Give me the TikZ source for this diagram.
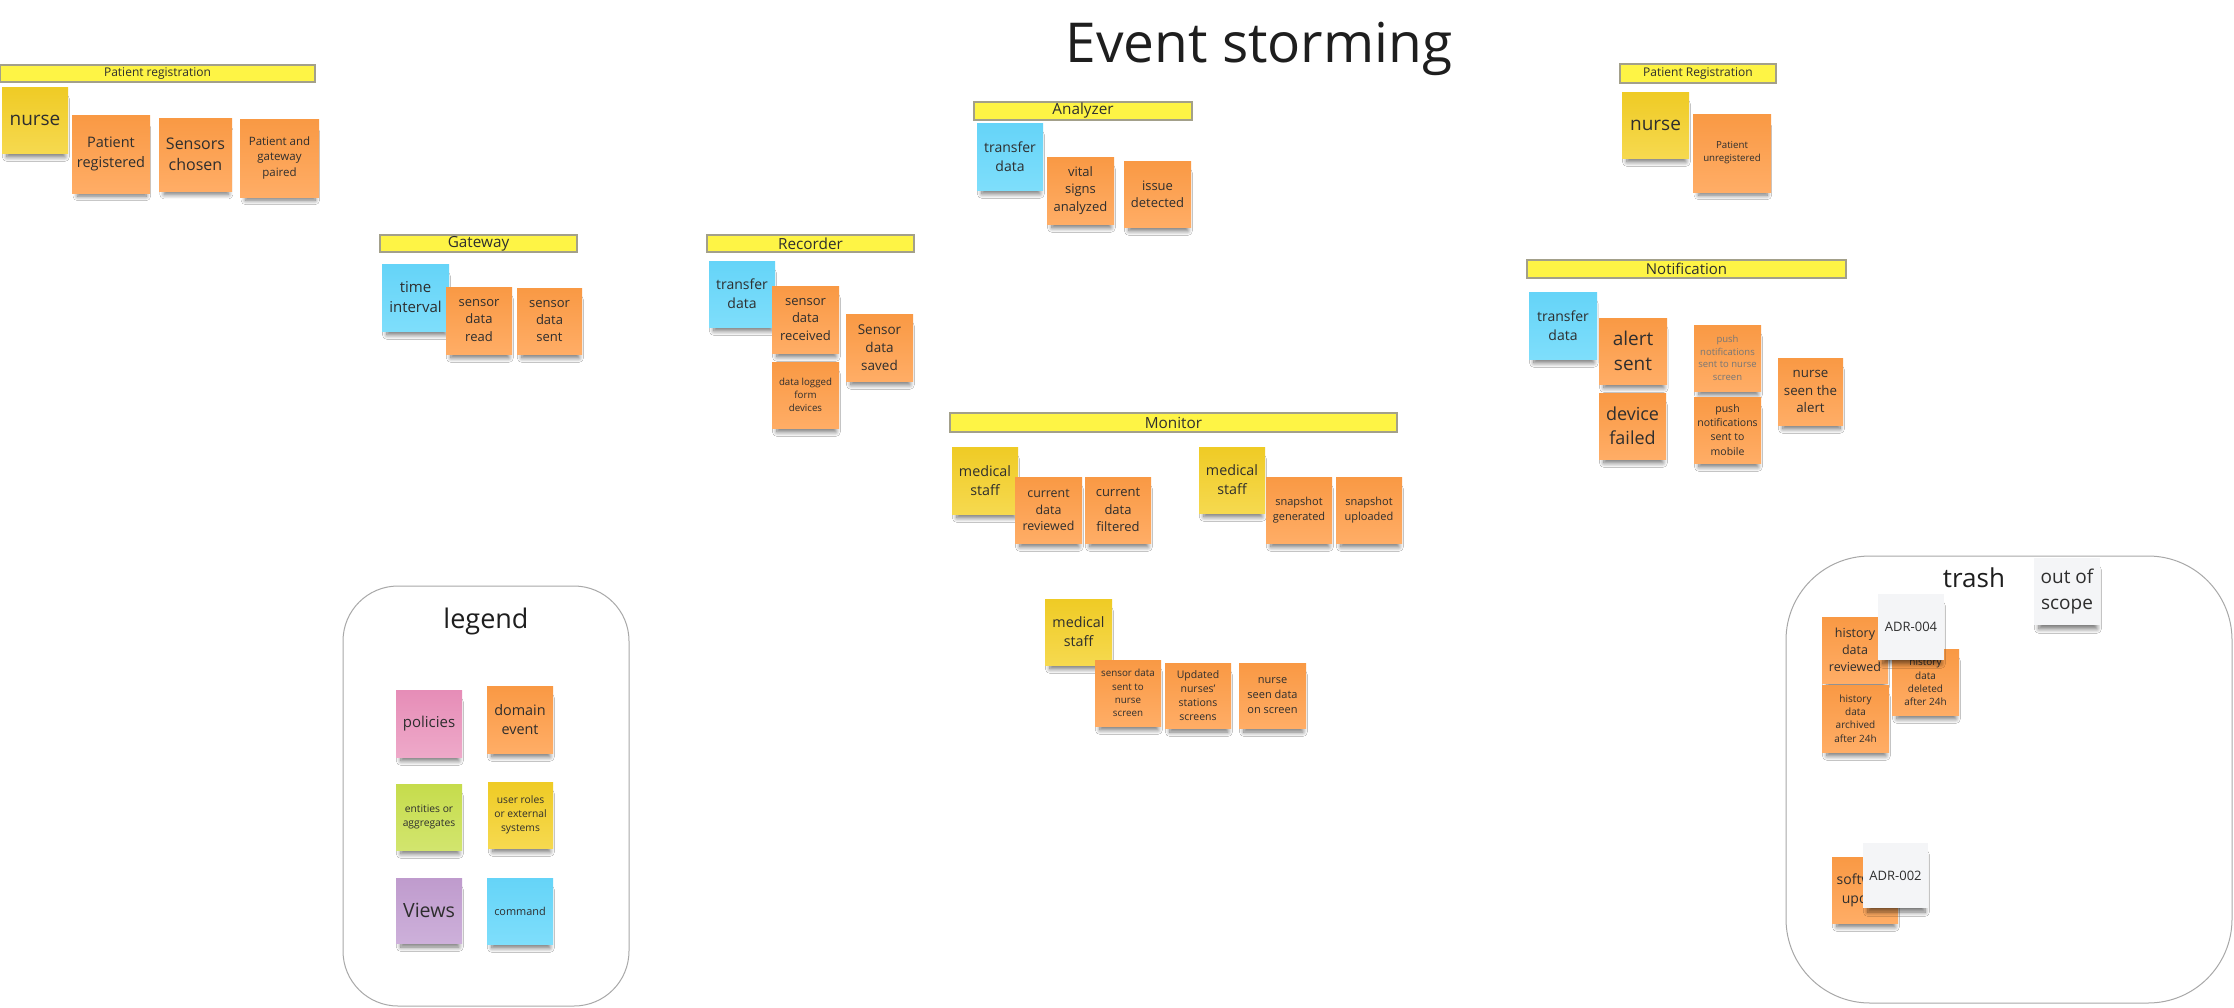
\documentclass[tikz,border=0pt]{standalone}
\usepackage{fontspec}
\setmainfont{Open Sans}
\usetikzlibrary{shadows.blur}
\definecolor{orT}{HTML}{F99944}
\definecolor{orB}{HTML}{FFAD66}
\definecolor{yeT}{HTML}{EFCB25}
\definecolor{yeB}{HTML}{F6D94F}
\definecolor{blT}{HTML}{65D4F8}
\definecolor{blB}{HTML}{7EDEFB}
\definecolor{grF}{HTML}{F4F5F7}
\definecolor{piT}{HTML}{E68DB7}
\definecolor{piB}{HTML}{EEA9C9}
\definecolor{gnT}{HTML}{C6DC4C}
\definecolor{gnB}{HTML}{D2E56E}
\definecolor{puT}{HTML}{BF9BCD}
\definecolor{puB}{HTML}{CDB0DA}
\definecolor{bannerF}{HTML}{FEF445}
\definecolor{bannerD}{HTML}{A3A08A}
\definecolor{txt}{HTML}{2E2E2E}
\definecolor{ttl}{HTML}{1E1E1E}
\definecolor{boxD}{HTML}{A8A8A8}
\newcommand\fsz[1]{\fontsize{#1}{\fpeval{1.34*#1}}\selectfont}
\newcommand\stk[8]{\node[#1, anchor=north west, minimum width={(#5-#3)*1pt}, minimum height={(#6-#4)*1pt}, font=\fsz{#7}] (#2) at (#3,#4) {#8};}
\newcommand\bnr[7]{\node[banner, anchor=north west, minimum width={(#4-#2)*1pt}, minimum height={(#5-#3)*1pt}, font=\fsz{#6}] (#1) at (#2,#3) {#7};}
\tikzset{
  sticky/.style={inner sep=1pt, outer sep=0pt, align=center, text=txt,
    blur shadow={shadow xshift=1pt, shadow yshift=-9pt, shadow blur radius=5pt, shadow blur steps=10, shadow opacity=55, shadow scale=0.88}},
  ev/.style={sticky, top color=orT, bottom color=orB},
  actor/.style={sticky, top color=yeT, bottom color=yeB},
  cmdn/.style={sticky, top color=blT, bottom color=blB},
  note/.style={sticky, fill=grF},
  pol/.style={sticky, top color=piT, bottom color=piB},
  ent/.style={sticky, top color=gnT, bottom color=gnB},
  view/.style={sticky, top color=puT, bottom color=puB},
  banner/.style={draw=bannerD, line width=1.3pt, fill=bannerF, inner sep=0pt, outer sep=0pt, text=txt},
  frame/.style={draw=boxD, line width=1pt, fill=none, anchor=north west, inner sep=0pt, outer sep=0pt},
}
\begin{document}
\begin{tikzpicture}[x=1pt, y=-1pt]
\useasboundingbox (0,0) rectangle (2234,1007);
\fill[white] (0,0) rectangle (2234,1007);

% title
\node[font=\fsz{55}, text=ttl, anchor=base, inner sep=0pt] (title) at (1259,62) {Event storming};

% frames
\node[frame, rounded corners=55pt, minimum width=286pt, minimum height=420pt] (legendbox) at (343,586) {};
\node[font=\fsz{27}, text=ttl, anchor=base, inner sep=0pt] (legendlbl) at (486,628) {legend};
\node[frame, rounded corners=84pt, minimum width=446pt, minimum height=447pt] (trashbox) at (1786,556) {};
\node[font=\fsz{26}, text=ttl, anchor=base, inner sep=0pt] (trashlbl) at (1974,587) {trash};

% banners
\bnr{b1}{0}{65}{315}{82}{12}{Patient registration}
\bnr{b2}{380}{235}{577}{252}{15.3}{Gateway}
\bnr{b3}{707}{235}{914}{252}{15.3}{Recorder}
\bnr{b4}{974}{102}{1192}{120}{15.3}{Analyzer}
\bnr{b5}{1620}{64}{1776}{83}{12}{Patient Registration}
\bnr{b6}{1527}{260}{1846}{278}{15}{Notification}
\bnr{b7}{950}{413}{1397}{432}{15.3}{Monitor}

% patient registration
\stk{actor}{nurse1}{2}{87}{68}{153}{19}{nurse}
\stk{ev}{preg}{72}{115}{150}{193}{14.5}{Patient\\registered}
\stk{ev}{schosen}{159}{118}{232}{191}{16}{Sensors\\chosen}
\stk{ev}{pgp}{240}{119}{319}{197}{11.5}{Patient and\\gateway\\paired}

% gateway
\stk{cmdn}{tint}{382}{264}{449}{331}{15}{time\\interval}
\stk{ev}{sdread}{446}{287}{512}{354}{13}{sensor\\data\\read}
\stk{ev}{sdsent}{517}{288}{582}{354}{13}{sensor\\data\\sent}

% recorder
\stk{cmdn}{tdrec}{709}{261}{775}{327}{14}{transfer\\data}
\stk{ev}{sdrecv}{772}{286}{839}{353}{13}{sensor\\data\\received}
\stk{ev}{sdsaved}{846}{314}{913}{381}{13.5}{Sensor\\data\\saved}
\stk{ev}{dlogged}{772}{362}{839}{428}{9.7}{data logged\\form\\devices}

% analyzer
\stk{cmdn}{tdana}{977}{123}{1043}{190}{14}{transfer\\data}
\stk{ev}{vsa}{1047}{157}{1114}{224}{13}{vital\\signs\\analyzed}
\stk{ev}{idet}{1124}{161}{1191}{227}{13}{issue\\detected}

% patient registration (right)
\stk{actor}{nurse2}{1622}{92}{1689}{158}{19}{nurse}
\stk{ev}{punreg}{1693}{114}{1771}{192}{9.7}{Patient\\unregistered}

% notification
\stk{cmdn}{tdnot}{1529}{292}{1597}{359}{14}{transfer\\data}
\stk{ev}{asent}{1599}{318}{1667}{384}{19}{alert\\sent}
\stk{ev}{dfail}{1599}{393}{1666}{459}{18}{device\\failed}
\stk{ev, text=txt!65}{pnscreen}{1694}{325}{1761}{391}{9.5}{push\\notifications\\sent to nurse\\screen}
\stk{ev}{pnmobile}{1694}{397}{1761}{463}{10.5}{push\\notifications\\sent to\\mobile}
\stk{ev}{nsalert}{1778}{358}{1843}{425}{13.3}{nurse\\seen the\\alert}

% monitor
\stk{actor}{ms1}{952}{447}{1018}{514}{14.3}{medical\\staff}
\stk{ev}{cdrev}{1015}{477}{1082}{543}{12.4}{current\\data\\reviewed}
\stk{ev}{cdfil}{1085}{477}{1151}{543}{13}{current\\data\\filtered}
\stk{actor}{ms2}{1199}{447}{1265}{513}{14.3}{medical\\staff}
\stk{ev}{sgen}{1266}{477}{1332}{543}{11}{snapshot\\generated}
\stk{ev}{supl}{1336}{477}{1402}{543}{11}{snapshot\\uploaded}
\stk{actor}{ms3}{1045}{599}{1112}{665}{14.3}{medical\\staff}
\stk{ev}{sdsns}{1095}{660}{1161}{726}{9.8}{sensor data\\sent to\\nurse\\screen}
\stk{ev}{unss}{1165}{663}{1231}{728}{10.5}{Updated\\nurses'\\stations\\screens}
\stk{ev}{nsdos}{1239}{663}{1306}{728}{11}{nurse\\seen data\\on screen}

% legend
\stk{pol}{lgpol}{396}{690}{462}{757}{15}{policies}
\stk{ev}{lgev}{487}{686}{553}{753}{14.4}{domain\\event}
\stk{ent}{lgent}{396}{784}{462}{850}{10.3}{entities or\\aggregates}
\stk{actor}{lgact}{488}{782}{553}{848}{10.3}{user roles\\or external\\systems}
\stk{view}{lgview}{396}{878}{462}{943}{19.6}{Views}
\stk{cmdn}{lgcmd}{487}{878}{553}{944}{10.9}{command}

% trash
\stk{note}{oos}{2034}{558}{2100}{625}{19}{out of\\scope}
\stk{ev}{hdrev}{1822}{617}{1888}{683}{12.5}{history\\data\\reviewed}
\stk{ev}{hddel}{1892}{649}{1959}{715}{10}{history\\data\\deleted\\after 24h}
\stk{ev}{hdarc}{1822}{685}{1889}{752}{10}{history\\data\\archived\\after 24h}
\stk{note}{adr4}{1878}{594}{1944}{660}{13}{ADR-004}
\stk{ev}{swupd}{1832}{857}{1898}{923}{14}{software\\update}
\stk{note}{adr2}{1863}{843}{1928}{908}{13}{ADR-002}
\end{tikzpicture}
\end{document}
